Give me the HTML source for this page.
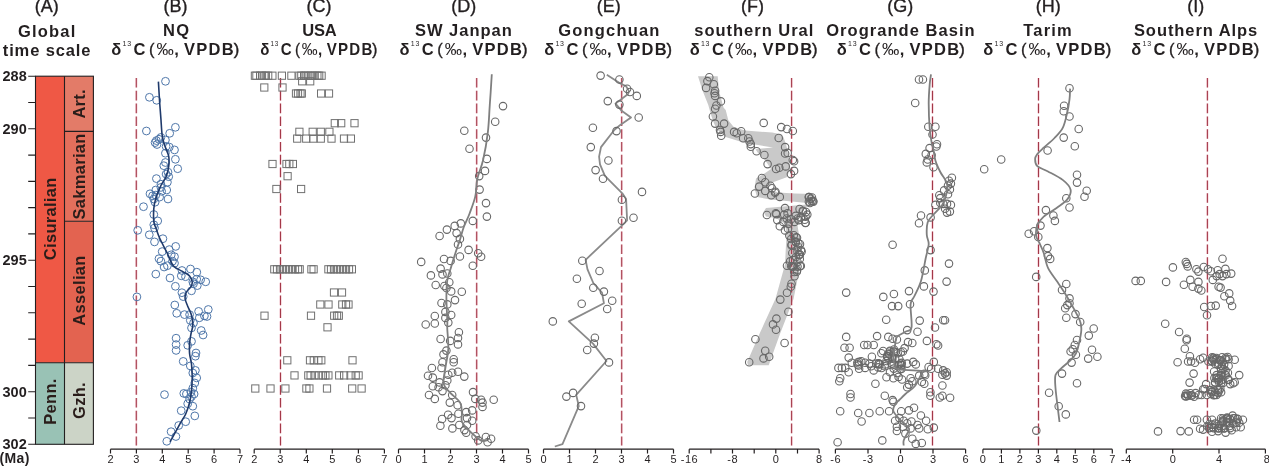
<!DOCTYPE html>
<html><head><meta charset="utf-8"><title>Carbon isotope correlation</title>
<style>
html,body{margin:0;padding:0;background:#fff;}
body{width:1269px;height:466px;overflow:hidden;}
svg{display:block;}
</style></head>
<body>
<svg width="1269" height="466" viewBox="0 0 1269 466">
<rect width="1269" height="466" fill="#fff"/>
<rect x="35.5" y="76.2" width="29.0" height="286.6" fill="#EF5845"/>
<rect x="35.5" y="362.8" width="29.0" height="81.5" fill="#99C2B5"/>
<rect x="64.5" y="76.2" width="28.9" height="55.2" fill="#E37B68"/>
<rect x="64.5" y="131.4" width="28.9" height="89.9" fill="#E36F5C"/>
<rect x="64.5" y="221.3" width="28.9" height="141.4" fill="#E36350"/>
<rect x="64.5" y="362.8" width="28.9" height="81.5" fill="#CCD4C7"/>
<g stroke="#231f20" stroke-width="1.1" fill="none">
<rect x="35.5" y="76.2" width="57.9" height="368.1"/>
<path d="M64.5,76.2 V444.3 M35.5,362.8 H93.4 M64.5,131.4 H93.4 M64.5,221.3 H93.4"/>
<path d="M28.2,76.2 H35.5 M28.2,102.5 H35.5 M28.2,128.8 H35.5 M28.2,155.1 H35.5 M28.2,181.4 H35.5 M28.2,207.6 H35.5 M28.2,233.9 H35.5 M28.2,260.2 H35.5 M28.2,286.5 H35.5 M28.2,312.8 H35.5 M28.2,339.1 H35.5 M28.2,365.4 H35.5 M28.2,391.7 H35.5 M28.2,418.0 H35.5 M28.2,444.3 H35.5 "/>
</g>
<g font-family="Liberation Sans, Arial, sans-serif" font-weight="bold" font-size="14.5" fill="#231f20" text-anchor="end" letter-spacing="0.1">
<text x="26.9" y="81.2">288</text>
<text x="26.9" y="133.8">290</text>
<text x="26.9" y="265.2">295</text>
<text x="26.9" y="396.7">300</text>
<text x="26.9" y="449.3">302</text>
</g>
<text x="-0.5" y="462.5" font-family="Liberation Sans, Arial, sans-serif" font-weight="bold" font-size="14" fill="#231f20" letter-spacing="0.4">(Ma)</text>
<text transform="translate(55.8,218.8) rotate(-90)" text-anchor="middle" font-family="Liberation Sans, Arial, sans-serif" font-weight="bold" font-size="16.5" letter-spacing="0.3" fill="#2a1d1a">Cisuralian</text>
<text transform="translate(84.6,103.8) rotate(-90)" text-anchor="middle" font-family="Liberation Sans, Arial, sans-serif" font-weight="bold" font-size="16.5" letter-spacing="0.3" fill="#2a1d1a">Art.</text>
<text transform="translate(84.6,176.4) rotate(-90)" text-anchor="middle" font-family="Liberation Sans, Arial, sans-serif" font-weight="bold" font-size="16.5" letter-spacing="0.3" fill="#2a1d1a">Sakmarian</text>
<text transform="translate(84.6,290.5) rotate(-90)" text-anchor="middle" font-family="Liberation Sans, Arial, sans-serif" font-weight="bold" font-size="16.5" letter-spacing="0.3" fill="#2a1d1a">Asselian</text>
<text transform="translate(55.8,401.5) rotate(-90)" text-anchor="middle" font-family="Liberation Sans, Arial, sans-serif" font-weight="bold" font-size="16.5" letter-spacing="0.3" fill="#2a1d1a">Penn.</text>
<text transform="translate(84.6,400.5) rotate(-90)" text-anchor="middle" font-family="Liberation Sans, Arial, sans-serif" font-weight="bold" font-size="16.5" letter-spacing="0.3" fill="#2a1d1a">Gzh.</text>
<g stroke="#231f20" stroke-width="1.2" fill="none">
<path d="M110.5,449.2 H240.0 M110.5,449.2 V453.4 M136.4,449.2 V453.4 M162.3,449.2 V453.4 M188.2,449.2 V453.4 M214.1,449.2 V453.4 M240.0,449.2 V453.4 "/>
<path d="M254.2,449.2 H384.4 M254.2,449.2 V453.4 M280.2,449.2 V453.4 M306.3,449.2 V453.4 M332.3,449.2 V453.4 M358.4,449.2 V453.4 M384.4,449.2 V453.4 "/>
<path d="M398.5,449.2 H528.5 M398.5,449.2 V453.4 M424.5,449.2 V453.4 M450.5,449.2 V453.4 M476.5,449.2 V453.4 M502.5,449.2 V453.4 M528.5,449.2 V453.4 "/>
<path d="M543.5,449.2 H673.5 M543.5,449.2 V453.4 M569.5,449.2 V453.4 M595.5,449.2 V453.4 M621.5,449.2 V453.4 M647.5,449.2 V453.4 M673.5,449.2 V453.4 "/>
<path d="M689.2,449.2 H819.1 M689.2,449.2 V453.4 M710.9,449.2 V453.4 M732.5,449.2 V453.4 M754.2,449.2 V453.4 M775.8,449.2 V453.4 M797.5,449.2 V453.4 M819.1,449.2 V453.4 "/>
<path d="M835.4,449.2 H965.6 M835.4,449.2 V453.4 M868.0,449.2 V453.4 M900.5,449.2 V453.4 M933.0,449.2 V453.4 M965.6,449.2 V453.4 "/>
<path d="M982.9,449.2 H1112.3 M982.9,449.2 V453.4 M1001.4,449.2 V453.4 M1019.9,449.2 V453.4 M1038.4,449.2 V453.4 M1056.8,449.2 V453.4 M1075.3,449.2 V453.4 M1093.8,449.2 V453.4 M1112.3,449.2 V453.4 "/>
<path d="M1126.3,449.2 H1265.4 M1126.3,449.2 V453.4 M1172.7,449.2 V453.4 M1219.0,449.2 V453.4 M1265.4,449.2 V453.4 "/>
</g>
<g font-family="Liberation Sans, Arial, sans-serif" font-size="11" fill="#231f20" text-anchor="middle">
<text x="110.5" y="462.7">2</text>
<text x="136.4" y="462.7">3</text>
<text x="162.3" y="462.7">4</text>
<text x="188.2" y="462.7">5</text>
<text x="214.1" y="462.7">6</text>
<text x="240.0" y="462.7">7</text>
<text x="254.2" y="462.7">2</text>
<text x="280.2" y="462.7">3</text>
<text x="306.3" y="462.7">4</text>
<text x="332.3" y="462.7">5</text>
<text x="358.4" y="462.7">6</text>
<text x="384.4" y="462.7">7</text>
<text x="398.5" y="462.7">0</text>
<text x="424.5" y="462.7">1</text>
<text x="450.5" y="462.7">2</text>
<text x="476.5" y="462.7">3</text>
<text x="502.5" y="462.7">4</text>
<text x="528.5" y="462.7">5</text>
<text x="543.5" y="462.7">0</text>
<text x="569.5" y="462.7">1</text>
<text x="595.5" y="462.7">2</text>
<text x="621.5" y="462.7">3</text>
<text x="647.5" y="462.7">4</text>
<text x="673.5" y="462.7">5</text>
<text x="689.5" y="462.7" letter-spacing="0.6">-16</text>
<text x="732.8" y="462.7" letter-spacing="0.6">-8</text>
<text x="775.8" y="462.7">0</text>
<text x="819.1" y="462.7">8</text>
<text x="835.7" y="462.7" letter-spacing="0.6">-6</text>
<text x="868.2" y="462.7" letter-spacing="0.6">-3</text>
<text x="900.5" y="462.7">0</text>
<text x="933.0" y="462.7">3</text>
<text x="965.6" y="462.7">6</text>
<text x="982.9" y="462.7">0</text>
<text x="1001.4" y="462.7">1</text>
<text x="1019.9" y="462.7">2</text>
<text x="1038.4" y="462.7">3</text>
<text x="1056.8" y="462.7">4</text>
<text x="1075.3" y="462.7">5</text>
<text x="1093.8" y="462.7">6</text>
<text x="1112.3" y="462.7">7</text>
<text x="1126.6" y="462.7" letter-spacing="0.6">-4</text>
<text x="1172.7" y="462.7">0</text>
<text x="1219.0" y="462.7">4</text>
<text x="1266.9" y="462.7">8</text>
</g>
<path d="M698.0,76.2 L702.6,90.7 L708.3,105.0 L710.5,113.0 L713.0,121.0 L716.7,129.3 L725.7,137.0 L742.5,142.2 L753.6,144.3 L773.0,147.5 L755.5,149.2 L758.0,153.0 L765.0,160.0 L771.0,169.0 L763.0,174.5 L756.0,178.5 L754.5,188.0 L757.0,197.0 L770.0,199.5 L781.5,200.4 L807.3,203.0 L810.0,204.0 L803.9,204.7 L766.0,208.1 L763.5,212.0 L766.0,216.5 L776.0,218.0 L785.5,224.0 L786.5,235.0 L785.0,264.4 L775.5,298.7 L759.2,334.4 L747.2,362.0 L748.0,365.3 L768.7,365.3 L779.8,334.4 L793.6,298.7 L800.4,264.4 L799.0,235.0 L797.0,222.0 L803.0,210.0 L813.0,203.0 L816.0,198.0 L812.0,194.0 L795.0,193.5 L778.0,192.5 L768.0,188.5 L773.0,182.3 L786.7,177.2 L790.3,169.0 L789.0,158.7 L786.4,145.8 L783.8,138.0 L782.0,134.5 L772.2,132.5 L745.0,130.5 L733.5,126.7 L728.3,120.3 L725.7,110.0 L723.5,107.5 L719.0,90.7 L717.7,76.2 Z" fill="#c9c9c9"/>
<line x1="136.3" y1="78" x2="136.3" y2="445.5" stroke="#eaa0ae" stroke-opacity="0.4" stroke-width="2.6" stroke-dasharray="9.6 3.2"/>
<line x1="136.3" y1="78" x2="136.3" y2="445.5" stroke="#a33848" stroke-width="1.05" stroke-dasharray="9.6 3.2"/>
<line x1="280.5" y1="78" x2="280.5" y2="445.5" stroke="#eaa0ae" stroke-opacity="0.4" stroke-width="2.6" stroke-dasharray="9.6 3.2"/>
<line x1="280.5" y1="78" x2="280.5" y2="445.5" stroke="#a33848" stroke-width="1.05" stroke-dasharray="9.6 3.2"/>
<line x1="476.7" y1="78" x2="476.7" y2="445.5" stroke="#eaa0ae" stroke-opacity="0.4" stroke-width="2.6" stroke-dasharray="9.6 3.2"/>
<line x1="476.7" y1="78" x2="476.7" y2="445.5" stroke="#a33848" stroke-width="1.05" stroke-dasharray="9.6 3.2"/>
<line x1="621.7" y1="78" x2="621.7" y2="445.5" stroke="#eaa0ae" stroke-opacity="0.4" stroke-width="2.6" stroke-dasharray="9.6 3.2"/>
<line x1="621.7" y1="78" x2="621.7" y2="445.5" stroke="#a33848" stroke-width="1.05" stroke-dasharray="9.6 3.2"/>
<line x1="791.6" y1="78" x2="791.6" y2="445.5" stroke="#eaa0ae" stroke-opacity="0.4" stroke-width="2.6" stroke-dasharray="9.6 3.2"/>
<line x1="791.6" y1="78" x2="791.6" y2="445.5" stroke="#a33848" stroke-width="1.05" stroke-dasharray="9.6 3.2"/>
<line x1="932.5" y1="78" x2="932.5" y2="445.5" stroke="#eaa0ae" stroke-opacity="0.4" stroke-width="2.6" stroke-dasharray="9.6 3.2"/>
<line x1="932.5" y1="78" x2="932.5" y2="445.5" stroke="#a33848" stroke-width="1.05" stroke-dasharray="9.6 3.2"/>
<line x1="1038.5" y1="78" x2="1038.5" y2="445.5" stroke="#eaa0ae" stroke-opacity="0.4" stroke-width="2.6" stroke-dasharray="9.6 3.2"/>
<line x1="1038.5" y1="78" x2="1038.5" y2="445.5" stroke="#a33848" stroke-width="1.05" stroke-dasharray="9.6 3.2"/>
<line x1="1207.4" y1="78" x2="1207.4" y2="445.5" stroke="#eaa0ae" stroke-opacity="0.4" stroke-width="2.6" stroke-dasharray="9.6 3.2"/>
<line x1="1207.4" y1="78" x2="1207.4" y2="445.5" stroke="#a33848" stroke-width="1.05" stroke-dasharray="9.6 3.2"/>
<g font-family="Liberation Sans, Arial, sans-serif" font-size="18" fill="#231f20" stroke="#231f20" stroke-width="0.35" text-anchor="middle">
<text x="46.8" y="11.6">(A)</text>
<text x="175.4" y="11.6">(B)</text>
<text x="319.1" y="11.6">(C)</text>
<text x="463.7" y="11.6">(D)</text>
<text x="608.8" y="11.6">(E)</text>
<text x="752.5" y="11.6">(F)</text>
<text x="900.3" y="11.6">(G)</text>
<text x="1048.3" y="11.6">(H)</text>
<text x="1195.7" y="11.6">(I)</text>
</g>
<g font-family="Liberation Sans, Arial, sans-serif" font-weight="bold" font-size="16.5" fill="#231f20" text-anchor="middle">
<text x="47.29" y="36.7" letter-spacing="1.18">Global</text>
<text x="176.75" y="35.7" letter-spacing="1.4">NQ</text>
<text x="319.27" y="35.7" letter-spacing="-0.25">USA</text>
<text x="463.85" y="35.7" letter-spacing="0.99">SW Janpan</text>
<text x="609.40" y="35.7" letter-spacing="1.2">Gongchuan</text>
<text x="754.29" y="35.7" letter-spacing="0.98">southern Ural</text>
<text x="900.97" y="35.7" letter-spacing="1.04">Orogrande Basin</text>
<text x="1048.08" y="35.7" letter-spacing="1.15">Tarim</text>
<text x="1196.06" y="35.7" letter-spacing="0.93">Southern Alps</text>
<text x="47.04" y="55.6" letter-spacing="0.87">time scale</text>
</g>
<text y="54.7" font-family="Liberation Sans, Arial, sans-serif" font-size="16.5" fill="#231f20"><tspan x="111.3" font-weight="bold">δ</tspan><tspan x="122.5" y="45.8" font-size="7" letter-spacing="0.8">13</tspan><tspan x="133.5" y="54.7" font-weight="bold">C </tspan><tspan x="149.1" stroke="#231f20" stroke-width="0.3">(</tspan><tspan x="174.2" font-weight="bold">, </tspan><tspan x="184.0" font-weight="bold" letter-spacing="1.3">VPDB</tspan><tspan x="233.7" stroke="#231f20" stroke-width="0.45">)</tspan></text>
<text transform="translate(156.5,54.7) scale(1.050,1)" font-family="Liberation Sans, Arial, sans-serif" font-size="16.5" fill="#231f20">‰</text>
<text y="54.7" font-family="Liberation Sans, Arial, sans-serif" font-size="16.5" fill="#231f20" transform="translate(260.9,0) scale(0.915,1) translate(-260.9,0)"><tspan x="260.3" font-weight="bold">δ</tspan><tspan x="271.5" y="45.8" font-size="7" letter-spacing="0.8">13</tspan><tspan x="282.5" y="54.7" font-weight="bold">C </tspan><tspan x="298.1" stroke="#231f20" stroke-width="0.3">(</tspan><tspan x="323.2" font-weight="bold">, </tspan><tspan x="333.0" font-weight="bold" letter-spacing="1.3">VPDB</tspan><tspan x="382.7" stroke="#231f20" stroke-width="0.45">)</tspan></text>
<text transform="translate(301.7,54.7) scale(0.961,1)" font-family="Liberation Sans, Arial, sans-serif" font-size="16.5" fill="#231f20">‰</text>
<text y="54.7" font-family="Liberation Sans, Arial, sans-serif" font-size="16.5" fill="#231f20"><tspan x="399.5" font-weight="bold">δ</tspan><tspan x="410.7" y="45.8" font-size="7" letter-spacing="0.8">13</tspan><tspan x="421.7" y="54.7" font-weight="bold">C </tspan><tspan x="437.3" stroke="#231f20" stroke-width="0.3">(</tspan><tspan x="462.4" font-weight="bold">, </tspan><tspan x="472.2" font-weight="bold" letter-spacing="1.3">VPDB</tspan><tspan x="521.9" stroke="#231f20" stroke-width="0.45">)</tspan></text>
<text transform="translate(444.7,54.7) scale(1.050,1)" font-family="Liberation Sans, Arial, sans-serif" font-size="16.5" fill="#231f20">‰</text>
<text y="54.7" font-family="Liberation Sans, Arial, sans-serif" font-size="16.5" fill="#231f20"><tspan x="544.2" font-weight="bold">δ</tspan><tspan x="555.4" y="45.8" font-size="7" letter-spacing="0.8">13</tspan><tspan x="566.4" y="54.7" font-weight="bold">C </tspan><tspan x="582.0" stroke="#231f20" stroke-width="0.3">(</tspan><tspan x="607.1" font-weight="bold">, </tspan><tspan x="616.9" font-weight="bold" letter-spacing="1.3">VPDB</tspan><tspan x="666.6" stroke="#231f20" stroke-width="0.45">)</tspan></text>
<text transform="translate(589.4,54.7) scale(1.050,1)" font-family="Liberation Sans, Arial, sans-serif" font-size="16.5" fill="#231f20">‰</text>
<text y="54.7" font-family="Liberation Sans, Arial, sans-serif" font-size="16.5" fill="#231f20"><tspan x="689.7" font-weight="bold">δ</tspan><tspan x="700.9" y="45.8" font-size="7" letter-spacing="0.8">13</tspan><tspan x="711.9" y="54.7" font-weight="bold">C </tspan><tspan x="727.5" stroke="#231f20" stroke-width="0.3">(</tspan><tspan x="752.6" font-weight="bold">, </tspan><tspan x="762.4" font-weight="bold" letter-spacing="1.3">VPDB</tspan><tspan x="812.1" stroke="#231f20" stroke-width="0.45">)</tspan></text>
<text transform="translate(734.9,54.7) scale(1.050,1)" font-family="Liberation Sans, Arial, sans-serif" font-size="16.5" fill="#231f20">‰</text>
<text y="54.7" font-family="Liberation Sans, Arial, sans-serif" font-size="16.5" fill="#231f20"><tspan x="836.8" font-weight="bold">δ</tspan><tspan x="848.0" y="45.8" font-size="7" letter-spacing="0.8">13</tspan><tspan x="859.0" y="54.7" font-weight="bold">C </tspan><tspan x="874.6" stroke="#231f20" stroke-width="0.3">(</tspan><tspan x="899.7" font-weight="bold">, </tspan><tspan x="909.5" font-weight="bold" letter-spacing="1.3">VPDB</tspan><tspan x="959.2" stroke="#231f20" stroke-width="0.45">)</tspan></text>
<text transform="translate(882.0,54.7) scale(1.050,1)" font-family="Liberation Sans, Arial, sans-serif" font-size="16.5" fill="#231f20">‰</text>
<text y="54.7" font-family="Liberation Sans, Arial, sans-serif" font-size="16.5" fill="#231f20"><tspan x="983.3" font-weight="bold">δ</tspan><tspan x="994.5" y="45.8" font-size="7" letter-spacing="0.8">13</tspan><tspan x="1005.5" y="54.7" font-weight="bold">C </tspan><tspan x="1021.1" stroke="#231f20" stroke-width="0.3">(</tspan><tspan x="1046.2" font-weight="bold">, </tspan><tspan x="1056.0" font-weight="bold" letter-spacing="1.3">VPDB</tspan><tspan x="1105.7" stroke="#231f20" stroke-width="0.45">)</tspan></text>
<text transform="translate(1028.5,54.7) scale(1.050,1)" font-family="Liberation Sans, Arial, sans-serif" font-size="16.5" fill="#231f20">‰</text>
<text y="54.7" font-family="Liberation Sans, Arial, sans-serif" font-size="16.5" fill="#231f20"><tspan x="1131.3" font-weight="bold">δ</tspan><tspan x="1142.5" y="45.8" font-size="7" letter-spacing="0.8">13</tspan><tspan x="1153.5" y="54.7" font-weight="bold">C </tspan><tspan x="1169.1" stroke="#231f20" stroke-width="0.3">(</tspan><tspan x="1194.2" font-weight="bold">, </tspan><tspan x="1204.0" font-weight="bold" letter-spacing="1.3">VPDB</tspan><tspan x="1253.7" stroke="#231f20" stroke-width="0.45">)</tspan></text>
<text transform="translate(1176.5,54.7) scale(1.050,1)" font-family="Liberation Sans, Arial, sans-serif" font-size="16.5" fill="#231f20">‰</text>
<g fill="none" stroke="#4f77aa" stroke-width="1.0">
<circle cx="165.5" cy="81.3" r="3.9"/>
<circle cx="149.4" cy="97.3" r="3.9"/>
<circle cx="156.7" cy="100.3" r="3.9"/>
<circle cx="175.4" cy="127.3" r="3.9"/>
<circle cx="146.4" cy="131.0" r="3.9"/>
<circle cx="169.7" cy="133.3" r="3.9"/>
<circle cx="156.4" cy="140.6" r="3.9"/>
<circle cx="159.0" cy="139.3" r="3.9"/>
<circle cx="160.9" cy="137.4" r="3.9"/>
<circle cx="165.4" cy="140.0" r="3.9"/>
<circle cx="155.1" cy="142.6" r="3.9"/>
<circle cx="157.0" cy="144.5" r="3.9"/>
<circle cx="166.1" cy="146.4" r="3.9"/>
<circle cx="169.3" cy="147.1" r="3.9"/>
<circle cx="174.5" cy="149.9" r="3.9"/>
<circle cx="165.4" cy="153.2" r="3.9"/>
<circle cx="175.4" cy="159.3" r="3.9"/>
<circle cx="165.4" cy="162.5" r="3.9"/>
<circle cx="163.8" cy="165.7" r="3.9"/>
<circle cx="177.7" cy="168.7" r="3.9"/>
<circle cx="168.0" cy="172.2" r="3.9"/>
<circle cx="166.1" cy="174.1" r="3.9"/>
<circle cx="156.4" cy="178.6" r="3.9"/>
<circle cx="168.7" cy="176.7" r="3.9"/>
<circle cx="167.4" cy="182.2" r="3.9"/>
<circle cx="160.9" cy="184.2" r="3.9"/>
<circle cx="160.9" cy="187.4" r="3.9"/>
<circle cx="155.8" cy="190.0" r="3.9"/>
<circle cx="166.7" cy="190.0" r="3.9"/>
<circle cx="161.6" cy="191.3" r="3.9"/>
<circle cx="150.0" cy="193.8" r="3.9"/>
<circle cx="152.6" cy="195.8" r="3.9"/>
<circle cx="155.8" cy="195.1" r="3.9"/>
<circle cx="159.6" cy="197.1" r="3.9"/>
<circle cx="153.8" cy="199.0" r="3.9"/>
<circle cx="168.0" cy="199.0" r="3.9"/>
<circle cx="155.1" cy="202.2" r="3.9"/>
<circle cx="143.5" cy="206.7" r="3.9"/>
<circle cx="153.8" cy="214.5" r="3.9"/>
<circle cx="157.7" cy="220.9" r="3.9"/>
<circle cx="153.8" cy="224.8" r="3.9"/>
<circle cx="154.5" cy="228.0" r="3.9"/>
<circle cx="137.7" cy="230.3" r="3.9"/>
<circle cx="149.3" cy="234.8" r="3.9"/>
<circle cx="162.9" cy="238.7" r="3.9"/>
<circle cx="154.5" cy="241.9" r="3.9"/>
<circle cx="175.7" cy="246.4" r="3.9"/>
<circle cx="162.2" cy="251.6" r="3.9"/>
<circle cx="169.3" cy="249.6" r="3.9"/>
<circle cx="171.2" cy="254.8" r="3.9"/>
<circle cx="174.5" cy="256.7" r="3.9"/>
<circle cx="159.0" cy="258.7" r="3.9"/>
<circle cx="160.9" cy="261.2" r="3.9"/>
<circle cx="172.5" cy="261.2" r="3.9"/>
<circle cx="174.5" cy="263.2" r="3.9"/>
<circle cx="164.1" cy="267.0" r="3.9"/>
<circle cx="167.4" cy="265.7" r="3.9"/>
<circle cx="155.8" cy="274.1" r="3.9"/>
<circle cx="170.0" cy="278.0" r="3.9"/>
<circle cx="182.0" cy="270.5" r="3.9"/>
<circle cx="190.5" cy="269.0" r="3.9"/>
<circle cx="181.3" cy="275.8" r="3.9"/>
<circle cx="185.5" cy="276.7" r="3.9"/>
<circle cx="196.8" cy="272.2" r="3.9"/>
<circle cx="192.8" cy="281.8" r="3.9"/>
<circle cx="196.7" cy="279.2" r="3.9"/>
<circle cx="200.6" cy="279.8" r="3.9"/>
<circle cx="205.7" cy="281.8" r="3.9"/>
<circle cx="197.3" cy="285.6" r="3.9"/>
<circle cx="193.5" cy="283.7" r="3.9"/>
<circle cx="175.4" cy="286.3" r="3.9"/>
<circle cx="191.5" cy="290.8" r="3.9"/>
<circle cx="181.9" cy="292.7" r="3.9"/>
<circle cx="183.2" cy="296.6" r="3.9"/>
<circle cx="174.8" cy="305.0" r="3.9"/>
<circle cx="176.7" cy="313.3" r="3.9"/>
<circle cx="184.5" cy="314.6" r="3.9"/>
<circle cx="189.6" cy="314.6" r="3.9"/>
<circle cx="198.6" cy="311.4" r="3.9"/>
<circle cx="208.3" cy="309.5" r="3.9"/>
<circle cx="204.4" cy="315.9" r="3.9"/>
<circle cx="207.0" cy="316.5" r="3.9"/>
<circle cx="199.3" cy="317.8" r="3.9"/>
<circle cx="190.3" cy="320.4" r="3.9"/>
<circle cx="193.5" cy="323.0" r="3.9"/>
<circle cx="136.9" cy="296.9" r="3.9"/>
<circle cx="191.5" cy="327.9" r="3.9"/>
<circle cx="201.2" cy="330.5" r="3.9"/>
<circle cx="203.1" cy="335.0" r="3.9"/>
<circle cx="176.1" cy="338.2" r="3.9"/>
<circle cx="191.5" cy="341.4" r="3.9"/>
<circle cx="187.7" cy="345.3" r="3.9"/>
<circle cx="176.1" cy="344.6" r="3.9"/>
<circle cx="176.1" cy="350.4" r="3.9"/>
<circle cx="196.0" cy="353.0" r="3.9"/>
<circle cx="195.4" cy="356.2" r="3.9"/>
<circle cx="183.2" cy="361.4" r="3.9"/>
<circle cx="190.3" cy="365.9" r="3.9"/>
<circle cx="195.4" cy="370.4" r="3.9"/>
<circle cx="192.8" cy="373.0" r="3.9"/>
<circle cx="196.7" cy="377.9" r="3.9"/>
<circle cx="194.8" cy="383.0" r="3.9"/>
<circle cx="192.8" cy="388.2" r="3.9"/>
<circle cx="164.5" cy="394.6" r="3.9"/>
<circle cx="183.8" cy="393.4" r="3.9"/>
<circle cx="186.4" cy="394.0" r="3.9"/>
<circle cx="190.9" cy="392.1" r="3.9"/>
<circle cx="194.1" cy="394.0" r="3.9"/>
<circle cx="191.5" cy="396.6" r="3.9"/>
<circle cx="189.6" cy="399.1" r="3.9"/>
<circle cx="187.7" cy="403.7" r="3.9"/>
<circle cx="192.8" cy="406.2" r="3.9"/>
<circle cx="181.2" cy="410.7" r="3.9"/>
<circle cx="194.8" cy="415.9" r="3.9"/>
<circle cx="185.7" cy="421.7" r="3.9"/>
<circle cx="178.7" cy="425.5" r="3.9"/>
<circle cx="171.1" cy="431.7" r="3.9"/>
<circle cx="175.9" cy="436.5" r="3.9"/>
<circle cx="166.8" cy="441.3" r="3.9"/>
</g>
<path d="M158.4,81.6 C158.6,84.7 159.1,93.6 159.5,100.0 C159.9,106.4 160.6,114.1 161.0,120.0 C161.4,125.9 161.6,131.2 162.2,135.5 C162.8,139.8 163.7,142.4 164.8,145.8 C165.9,149.2 168.0,152.7 168.7,156.1 C169.3,159.5 169.1,163.0 168.7,166.4 C168.3,169.8 167.4,173.5 166.1,176.7 C164.8,179.9 162.6,181.9 160.9,185.5 C159.2,189.1 157.0,194.5 155.8,198.4 C154.6,202.3 154.1,204.8 153.8,208.7 C153.5,212.5 153.5,218.3 153.8,221.5 C154.1,224.7 154.8,224.9 155.8,227.7 C156.8,230.4 157.7,233.7 159.6,238.0 C161.5,242.3 165.1,248.8 167.4,253.5 C169.7,258.2 171.0,263.0 173.5,266.0 C176.0,269.0 179.8,269.7 182.5,271.4 C185.2,273.1 188.0,274.3 189.6,276.0 C191.2,277.7 192.0,280.0 192.2,281.8 C192.4,283.6 191.9,285.2 190.9,286.9 C189.9,288.6 187.4,290.1 186.4,292.0 C185.4,293.9 184.9,296.1 185.1,298.5 C185.3,300.9 186.6,303.4 187.7,306.2 C188.8,309.0 190.7,312.1 191.5,315.3 C192.3,318.5 192.9,322.1 192.8,325.3 C192.7,328.5 191.4,331.3 190.9,334.3 C190.4,337.3 189.8,340.2 189.6,343.4 C189.4,346.6 189.3,350.3 189.6,353.7 C189.9,357.1 191.1,360.0 191.5,364.0 C191.9,368.0 192.2,373.4 192.2,377.9 C192.2,382.4 191.9,386.7 191.5,390.8 C191.1,394.9 190.6,398.5 189.6,402.4 C188.6,406.3 187.1,410.8 185.7,414.0 C184.3,417.2 182.9,418.7 181.2,421.7 C179.5,424.7 177.3,428.8 175.4,432.2 C173.5,435.6 170.9,440.2 170.0,441.8" fill="none" stroke="#1f3a6b" stroke-width="1.6"/>
<g fill="none" stroke="#707070" stroke-width="1">
<rect x="251.3" y="72.1" width="7.2" height="7.2"/>
<rect x="252.8" y="72.1" width="7.2" height="7.2"/>
<rect x="256.5" y="72.1" width="7.2" height="7.2"/>
<rect x="258.4" y="72.1" width="7.2" height="7.2"/>
<rect x="260.8" y="72.1" width="7.2" height="7.2"/>
<rect x="262.2" y="72.1" width="7.2" height="7.2"/>
<rect x="264.6" y="72.1" width="7.2" height="7.2"/>
<rect x="268.8" y="72.1" width="7.2" height="7.2"/>
<rect x="278.3" y="72.1" width="7.2" height="7.2"/>
<rect x="287.8" y="72.1" width="7.2" height="7.2"/>
<rect x="295.8" y="72.1" width="7.2" height="7.2"/>
<rect x="297.7" y="72.1" width="7.2" height="7.2"/>
<rect x="300.5" y="72.1" width="7.2" height="7.2"/>
<rect x="301.9" y="72.1" width="7.2" height="7.2"/>
<rect x="304.8" y="72.1" width="7.2" height="7.2"/>
<rect x="307.1" y="72.1" width="7.2" height="7.2"/>
<rect x="309.0" y="72.1" width="7.2" height="7.2"/>
<rect x="310.9" y="72.1" width="7.2" height="7.2"/>
<rect x="313.8" y="72.1" width="7.2" height="7.2"/>
<rect x="315.6" y="72.1" width="7.2" height="7.2"/>
<rect x="318.0" y="72.1" width="7.2" height="7.2"/>
<rect x="298.6" y="77.7" width="7.2" height="7.2"/>
<rect x="306.6" y="77.7" width="7.2" height="7.2"/>
<rect x="260.7" y="83.9" width="7.2" height="7.2"/>
<rect x="278.9" y="83.9" width="7.2" height="7.2"/>
<rect x="292.4" y="89.9" width="7.2" height="7.2"/>
<rect x="294.4" y="89.9" width="7.2" height="7.2"/>
<rect x="296.9" y="89.9" width="7.2" height="7.2"/>
<rect x="298.2" y="89.9" width="7.2" height="7.2"/>
<rect x="317.5" y="89.9" width="7.2" height="7.2"/>
<rect x="325.4" y="89.9" width="7.2" height="7.2"/>
<rect x="331.2" y="119.6" width="7.2" height="7.2"/>
<rect x="337.6" y="119.6" width="7.2" height="7.2"/>
<rect x="350.9" y="119.6" width="7.2" height="7.2"/>
<rect x="295.8" y="128.2" width="7.2" height="7.2"/>
<rect x="309.1" y="128.2" width="7.2" height="7.2"/>
<rect x="317.2" y="128.2" width="7.2" height="7.2"/>
<rect x="325.8" y="128.2" width="7.2" height="7.2"/>
<rect x="293.6" y="135.0" width="7.2" height="7.2"/>
<rect x="302.6" y="135.0" width="7.2" height="7.2"/>
<rect x="309.7" y="135.0" width="7.2" height="7.2"/>
<rect x="317.2" y="135.0" width="7.2" height="7.2"/>
<rect x="327.9" y="135.0" width="7.2" height="7.2"/>
<rect x="340.4" y="135.0" width="7.2" height="7.2"/>
<rect x="347.3" y="135.0" width="7.2" height="7.2"/>
<rect x="268.9" y="160.4" width="7.2" height="7.2"/>
<rect x="282.9" y="160.4" width="7.2" height="7.2"/>
<rect x="285.7" y="160.4" width="7.2" height="7.2"/>
<rect x="289.3" y="160.4" width="7.2" height="7.2"/>
<rect x="284.0" y="172.6" width="7.2" height="7.2"/>
<rect x="272.8" y="185.4" width="7.2" height="7.2"/>
<rect x="297.5" y="185.4" width="7.2" height="7.2"/>
<rect x="270.7" y="265.7" width="7.2" height="7.2"/>
<rect x="273.4" y="265.7" width="7.2" height="7.2"/>
<rect x="276.4" y="265.7" width="7.2" height="7.2"/>
<rect x="279.4" y="265.7" width="7.2" height="7.2"/>
<rect x="282.4" y="265.7" width="7.2" height="7.2"/>
<rect x="285.4" y="265.7" width="7.2" height="7.2"/>
<rect x="288.4" y="265.7" width="7.2" height="7.2"/>
<rect x="291.4" y="265.7" width="7.2" height="7.2"/>
<rect x="294.4" y="265.7" width="7.2" height="7.2"/>
<rect x="296.1" y="265.7" width="7.2" height="7.2"/>
<rect x="307.8" y="265.7" width="7.2" height="7.2"/>
<rect x="310.0" y="265.7" width="7.2" height="7.2"/>
<rect x="324.8" y="265.7" width="7.2" height="7.2"/>
<rect x="327.4" y="265.7" width="7.2" height="7.2"/>
<rect x="330.4" y="265.7" width="7.2" height="7.2"/>
<rect x="333.4" y="265.7" width="7.2" height="7.2"/>
<rect x="336.4" y="265.7" width="7.2" height="7.2"/>
<rect x="339.4" y="265.7" width="7.2" height="7.2"/>
<rect x="342.4" y="265.7" width="7.2" height="7.2"/>
<rect x="345.4" y="265.7" width="7.2" height="7.2"/>
<rect x="348.3" y="265.7" width="7.2" height="7.2"/>
<rect x="330.4" y="288.9" width="7.2" height="7.2"/>
<rect x="338.4" y="288.9" width="7.2" height="7.2"/>
<rect x="316.7" y="300.9" width="7.2" height="7.2"/>
<rect x="324.9" y="300.9" width="7.2" height="7.2"/>
<rect x="338.7" y="300.9" width="7.2" height="7.2"/>
<rect x="342.4" y="300.9" width="7.2" height="7.2"/>
<rect x="344.9" y="300.9" width="7.2" height="7.2"/>
<rect x="260.9" y="312.1" width="7.2" height="7.2"/>
<rect x="307.4" y="312.1" width="7.2" height="7.2"/>
<rect x="330.6" y="312.1" width="7.2" height="7.2"/>
<rect x="333.4" y="312.1" width="7.2" height="7.2"/>
<rect x="335.2" y="312.1" width="7.2" height="7.2"/>
<rect x="323.9" y="323.7" width="7.2" height="7.2"/>
<rect x="283.7" y="356.7" width="7.2" height="7.2"/>
<rect x="306.4" y="356.7" width="7.2" height="7.2"/>
<rect x="310.2" y="356.7" width="7.2" height="7.2"/>
<rect x="314.8" y="356.7" width="7.2" height="7.2"/>
<rect x="317.7" y="356.7" width="7.2" height="7.2"/>
<rect x="348.9" y="356.7" width="7.2" height="7.2"/>
<rect x="290.9" y="371.8" width="7.2" height="7.2"/>
<rect x="304.7" y="371.8" width="7.2" height="7.2"/>
<rect x="307.0" y="371.8" width="7.2" height="7.2"/>
<rect x="310.9" y="371.8" width="7.2" height="7.2"/>
<rect x="315.4" y="371.8" width="7.2" height="7.2"/>
<rect x="319.3" y="371.8" width="7.2" height="7.2"/>
<rect x="321.8" y="371.8" width="7.2" height="7.2"/>
<rect x="324.8" y="371.8" width="7.2" height="7.2"/>
<rect x="335.6" y="371.8" width="7.2" height="7.2"/>
<rect x="340.5" y="371.8" width="7.2" height="7.2"/>
<rect x="346.9" y="371.8" width="7.2" height="7.2"/>
<rect x="352.1" y="371.8" width="7.2" height="7.2"/>
<rect x="355.0" y="371.8" width="7.2" height="7.2"/>
<rect x="251.7" y="384.9" width="7.2" height="7.2"/>
<rect x="266.9" y="384.9" width="7.2" height="7.2"/>
<rect x="281.8" y="384.9" width="7.2" height="7.2"/>
<rect x="302.8" y="384.9" width="7.2" height="7.2"/>
<rect x="305.8" y="384.9" width="7.2" height="7.2"/>
<rect x="323.4" y="384.9" width="7.2" height="7.2"/>
<rect x="348.6" y="384.9" width="7.2" height="7.2"/>
<rect x="358.0" y="384.9" width="7.2" height="7.2"/>
</g>
<g fill="none" stroke="#686868" stroke-width="1.1">
<circle cx="503.0" cy="106.1" r="3.75"/>
<circle cx="495.2" cy="121.8" r="3.75"/>
<circle cx="464.3" cy="130.8" r="3.75"/>
<circle cx="486.0" cy="137.6" r="3.75"/>
<circle cx="469.5" cy="148.8" r="3.75"/>
<circle cx="486.9" cy="158.9" r="3.75"/>
<circle cx="485.0" cy="170.9" r="3.75"/>
<circle cx="479.2" cy="176.1" r="3.75"/>
<circle cx="479.6" cy="189.6" r="3.75"/>
<circle cx="486.0" cy="203.1" r="3.75"/>
<circle cx="486.9" cy="216.6" r="3.75"/>
<circle cx="472.8" cy="220.9" r="3.75"/>
<circle cx="460.8" cy="223.4" r="3.75"/>
<circle cx="454.7" cy="225.9" r="3.75"/>
<circle cx="446.9" cy="229.6" r="3.75"/>
<circle cx="456.6" cy="233.1" r="3.75"/>
<circle cx="439.6" cy="236.0" r="3.75"/>
<circle cx="459.9" cy="238.9" r="3.75"/>
<circle cx="458.0" cy="244.5" r="3.75"/>
<circle cx="468.6" cy="249.9" r="3.75"/>
<circle cx="478.2" cy="253.2" r="3.75"/>
<circle cx="481.1" cy="256.7" r="3.75"/>
<circle cx="459.9" cy="256.5" r="3.75"/>
<circle cx="421.2" cy="261.9" r="3.75"/>
<circle cx="444.0" cy="259.0" r="3.75"/>
<circle cx="450.6" cy="260.9" r="3.75"/>
<circle cx="472.8" cy="265.7" r="3.75"/>
<circle cx="440.6" cy="268.6" r="3.75"/>
<circle cx="430.9" cy="275.4" r="3.75"/>
<circle cx="442.5" cy="274.4" r="3.75"/>
<circle cx="447.3" cy="273.5" r="3.75"/>
<circle cx="449.3" cy="282.2" r="3.75"/>
<circle cx="435.7" cy="285.0" r="3.75"/>
<circle cx="444.4" cy="286.0" r="3.75"/>
<circle cx="446.4" cy="288.0" r="3.75"/>
<circle cx="451.2" cy="291.4" r="3.75"/>
<circle cx="461.8" cy="291.8" r="3.75"/>
<circle cx="455.0" cy="300.1" r="3.75"/>
<circle cx="441.5" cy="303.0" r="3.75"/>
<circle cx="447.3" cy="304.4" r="3.75"/>
<circle cx="434.8" cy="316.0" r="3.75"/>
<circle cx="451.2" cy="315.0" r="3.75"/>
<circle cx="445.4" cy="317.9" r="3.75"/>
<circle cx="445.4" cy="311.9" r="3.75"/>
<circle cx="434.8" cy="323.5" r="3.75"/>
<circle cx="425.7" cy="324.5" r="3.75"/>
<circle cx="448.3" cy="322.6" r="3.75"/>
<circle cx="458.9" cy="332.2" r="3.75"/>
<circle cx="458.0" cy="338.0" r="3.75"/>
<circle cx="440.6" cy="339.0" r="3.75"/>
<circle cx="450.2" cy="340.9" r="3.75"/>
<circle cx="458.0" cy="344.4" r="3.75"/>
<circle cx="446.4" cy="350.6" r="3.75"/>
<circle cx="443.5" cy="354.4" r="3.75"/>
<circle cx="453.7" cy="359.3" r="3.75"/>
<circle cx="453.7" cy="362.2" r="3.75"/>
<circle cx="442.5" cy="362.2" r="3.75"/>
<circle cx="431.9" cy="368.0" r="3.75"/>
<circle cx="441.5" cy="368.0" r="3.75"/>
<circle cx="458.0" cy="371.8" r="3.75"/>
<circle cx="452.2" cy="372.8" r="3.75"/>
<circle cx="428.0" cy="375.7" r="3.75"/>
<circle cx="432.8" cy="377.6" r="3.75"/>
<circle cx="448.3" cy="374.7" r="3.75"/>
<circle cx="464.3" cy="376.6" r="3.75"/>
<circle cx="447.3" cy="380.5" r="3.75"/>
<circle cx="439.6" cy="382.4" r="3.75"/>
<circle cx="432.8" cy="386.3" r="3.75"/>
<circle cx="445.4" cy="385.3" r="3.75"/>
<circle cx="438.6" cy="387.3" r="3.75"/>
<circle cx="442.5" cy="391.1" r="3.75"/>
<circle cx="429.0" cy="395.0" r="3.75"/>
<circle cx="452.2" cy="395.0" r="3.75"/>
<circle cx="473.0" cy="392.1" r="3.75"/>
<circle cx="475.3" cy="398.9" r="3.75"/>
<circle cx="493.7" cy="399.8" r="3.75"/>
<circle cx="481.1" cy="399.8" r="3.75"/>
<circle cx="434.8" cy="398.9" r="3.75"/>
<circle cx="482.5" cy="402.6" r="3.75"/>
<circle cx="482.5" cy="406.9" r="3.75"/>
<circle cx="449.8" cy="402.6" r="3.75"/>
<circle cx="457.6" cy="405.2" r="3.75"/>
<circle cx="472.2" cy="410.4" r="3.75"/>
<circle cx="466.2" cy="412.1" r="3.75"/>
<circle cx="458.4" cy="413.8" r="3.75"/>
<circle cx="448.1" cy="414.7" r="3.75"/>
<circle cx="451.5" cy="418.1" r="3.75"/>
<circle cx="442.1" cy="419.0" r="3.75"/>
<circle cx="467.0" cy="418.1" r="3.75"/>
<circle cx="472.2" cy="420.7" r="3.75"/>
<circle cx="440.4" cy="425.8" r="3.75"/>
<circle cx="452.4" cy="428.4" r="3.75"/>
<circle cx="459.3" cy="425.0" r="3.75"/>
<circle cx="467.0" cy="425.0" r="3.75"/>
<circle cx="464.4" cy="430.1" r="3.75"/>
<circle cx="466.2" cy="432.7" r="3.75"/>
<circle cx="475.6" cy="436.2" r="3.75"/>
<circle cx="478.2" cy="440.4" r="3.75"/>
<circle cx="485.9" cy="437.0" r="3.75"/>
<circle cx="491.1" cy="438.7" r="3.75"/>
<circle cx="487.6" cy="442.2" r="3.75"/>
</g>
<path d="M491.8,74.2 C491.5,79.3 490.5,95.2 489.8,104.8 C489.1,114.4 489.0,122.6 487.9,131.8 C486.8,141.0 484.9,152.1 483.1,160.0 C481.3,167.9 478.6,172.9 477.3,179.0 C476.0,185.1 476.6,190.6 475.3,196.4 C474.0,202.2 471.4,208.5 469.5,213.7 C467.6,218.8 465.3,222.9 463.7,227.3 C462.1,231.7 461.2,236.0 459.9,240.0 C458.6,244.0 457.4,246.8 456.0,251.2 C454.6,255.6 452.6,261.9 451.2,266.7 C449.8,271.5 448.1,275.0 447.3,280.2 C446.5,285.4 446.4,291.0 446.4,297.6 C446.4,304.2 447.1,314.7 447.3,320.0 C447.5,325.3 447.1,324.5 447.3,329.3 C447.5,334.1 448.6,342.2 448.3,348.6 C448.0,355.1 446.2,362.2 445.4,368.0 C444.6,373.8 442.8,379.3 443.5,383.4 C444.2,387.4 447.0,389.1 449.8,392.3 C452.6,395.5 458.1,399.2 460.1,402.6 C462.1,406.1 461.6,409.9 461.9,413.0 C462.2,416.1 460.8,418.6 461.9,421.5 C463.0,424.4 465.5,427.0 468.7,430.1 C471.9,433.2 477.8,438.8 480.8,440.4 C483.9,442.0 486.0,440.1 487.0,440.0" fill="none" stroke="#7f7f7f" stroke-width="1.8"/>
<path d="M606.8,74.7 L620.3,83.4 L626.1,86.2 L629.0,91.1 L628.1,94.0 L615.5,103.6 L621.3,110.4 L631.0,117.5 L620.3,124.9 L614.5,129.7 L601.0,147.1 L599.1,156.6 L600.0,164.3 L604.9,175.9 L612.6,183.6 L622.3,193.3 L626.1,199.1 L627.1,220.3 L621.3,226.1 L585.6,259.8 L587.5,269.4 L593.3,283.0 L602.0,292.6 L603.9,303.2 L568.8,321.4 L593.0,343.6 L606.5,361.0 L576.2,394.9 L578.8,406.1 L562.5,444.2 L554.8,446.5" fill="none" stroke="#8a8a8a" stroke-width="1.8" stroke-linejoin="round"/>
<g fill="none" stroke="#686868" stroke-width="1.1">
<circle cx="600.6" cy="75.6" r="3.75"/>
<circle cx="619.4" cy="79.5" r="3.75"/>
<circle cx="627.1" cy="88.8" r="3.75"/>
<circle cx="630.0" cy="92.0" r="3.75"/>
<circle cx="636.8" cy="95.9" r="3.75"/>
<circle cx="607.8" cy="101.1" r="3.75"/>
<circle cx="619.4" cy="104.6" r="3.75"/>
<circle cx="638.7" cy="117.5" r="3.75"/>
<circle cx="592.9" cy="127.8" r="3.75"/>
<circle cx="616.5" cy="131.1" r="3.75"/>
<circle cx="590.8" cy="147.1" r="3.75"/>
<circle cx="608.4" cy="160.5" r="3.75"/>
<circle cx="595.6" cy="170.1" r="3.75"/>
<circle cx="603.0" cy="178.8" r="3.75"/>
<circle cx="642.0" cy="191.9" r="3.75"/>
<circle cx="621.9" cy="199.7" r="3.75"/>
<circle cx="633.5" cy="217.8" r="3.75"/>
<circle cx="621.9" cy="220.7" r="3.75"/>
<circle cx="582.3" cy="260.7" r="3.75"/>
<circle cx="599.5" cy="271.0" r="3.75"/>
<circle cx="576.9" cy="278.7" r="3.75"/>
<circle cx="593.3" cy="287.8" r="3.75"/>
<circle cx="603.9" cy="291.6" r="3.75"/>
<circle cx="612.2" cy="300.7" r="3.75"/>
<circle cx="581.7" cy="303.8" r="3.75"/>
<circle cx="607.2" cy="309.0" r="3.75"/>
<circle cx="552.8" cy="321.4" r="3.75"/>
<circle cx="594.9" cy="337.8" r="3.75"/>
<circle cx="593.9" cy="343.6" r="3.75"/>
<circle cx="587.2" cy="350.0" r="3.75"/>
<circle cx="609.0" cy="362.4" r="3.75"/>
<circle cx="566.4" cy="396.6" r="3.75"/>
<circle cx="573.1" cy="392.9" r="3.75"/>
<circle cx="581.0" cy="406.1" r="3.75"/>
</g>
<g fill="none" stroke="#686868" stroke-width="1.1">
<circle cx="709.3" cy="77.2" r="3.75"/>
<circle cx="707.4" cy="81.1" r="3.75"/>
<circle cx="713.8" cy="84.3" r="3.75"/>
<circle cx="706.1" cy="87.9" r="3.75"/>
<circle cx="715.1" cy="90.7" r="3.75"/>
<circle cx="714.5" cy="93.3" r="3.75"/>
<circle cx="715.1" cy="95.9" r="3.75"/>
<circle cx="720.9" cy="101.4" r="3.75"/>
<circle cx="716.4" cy="105.5" r="3.75"/>
<circle cx="715.1" cy="108.8" r="3.75"/>
<circle cx="712.9" cy="116.5" r="3.75"/>
<circle cx="715.1" cy="123.6" r="3.75"/>
<circle cx="724.1" cy="123.6" r="3.75"/>
<circle cx="720.0" cy="130.0" r="3.75"/>
<circle cx="720.6" cy="131.9" r="3.75"/>
<circle cx="721.2" cy="135.7" r="3.75"/>
<circle cx="734.1" cy="131.9" r="3.75"/>
<circle cx="736.7" cy="133.2" r="3.75"/>
<circle cx="741.2" cy="131.2" r="3.75"/>
<circle cx="743.1" cy="138.3" r="3.75"/>
<circle cx="748.3" cy="138.3" r="3.75"/>
<circle cx="749.5" cy="141.5" r="3.75"/>
<circle cx="750.8" cy="144.1" r="3.75"/>
<circle cx="750.8" cy="146.7" r="3.75"/>
<circle cx="756.6" cy="151.2" r="3.75"/>
<circle cx="764.4" cy="155.0" r="3.75"/>
<circle cx="767.6" cy="164.1" r="3.75"/>
<circle cx="763.7" cy="122.9" r="3.75"/>
<circle cx="781.2" cy="127.1" r="3.75"/>
<circle cx="787.0" cy="129.0" r="3.75"/>
<circle cx="792.8" cy="131.0" r="3.75"/>
<circle cx="778.7" cy="138.0" r="3.75"/>
<circle cx="785.1" cy="147.1" r="3.75"/>
<circle cx="785.1" cy="153.5" r="3.75"/>
<circle cx="787.7" cy="152.9" r="3.75"/>
<circle cx="792.8" cy="160.0" r="3.75"/>
<circle cx="794.1" cy="161.2" r="3.75"/>
<circle cx="794.1" cy="170.9" r="3.75"/>
<circle cx="790.9" cy="174.1" r="3.75"/>
<circle cx="776.1" cy="169.0" r="3.75"/>
<circle cx="779.3" cy="167.7" r="3.75"/>
<circle cx="785.7" cy="166.4" r="3.75"/>
<circle cx="761.9" cy="178.0" r="3.75"/>
<circle cx="765.2" cy="182.3" r="3.75"/>
<circle cx="759.2" cy="186.6" r="3.75"/>
<circle cx="770.4" cy="185.8" r="3.75"/>
<circle cx="765.2" cy="190.9" r="3.75"/>
<circle cx="775.5" cy="191.8" r="3.75"/>
<circle cx="754.9" cy="193.5" r="3.75"/>
<circle cx="771.2" cy="195.2" r="3.75"/>
<circle cx="779.8" cy="196.9" r="3.75"/>
<circle cx="810.8" cy="198.7" r="3.75"/>
<circle cx="811.6" cy="201.2" r="3.75"/>
<circle cx="809.0" cy="197.0" r="3.75"/>
<circle cx="766.9" cy="215.0" r="3.75"/>
<circle cx="776.4" cy="214.1" r="3.75"/>
<circle cx="785.0" cy="208.1" r="3.75"/>
<circle cx="787.6" cy="213.3" r="3.75"/>
<circle cx="777.3" cy="220.1" r="3.75"/>
<circle cx="779.8" cy="226.2" r="3.75"/>
<circle cx="799.6" cy="209.0" r="3.75"/>
<circle cx="803.0" cy="211.5" r="3.75"/>
<circle cx="805.6" cy="216.7" r="3.75"/>
<circle cx="805.6" cy="222.7" r="3.75"/>
<circle cx="798.7" cy="220.1" r="3.75"/>
<circle cx="791.0" cy="219.3" r="3.75"/>
<circle cx="794.4" cy="221.9" r="3.75"/>
<circle cx="783.3" cy="221.9" r="3.75"/>
<circle cx="785.0" cy="230.4" r="3.75"/>
<circle cx="789.3" cy="235.6" r="3.75"/>
<circle cx="796.2" cy="237.3" r="3.75"/>
<circle cx="812.0" cy="197.5" r="3.75"/>
<circle cx="813.0" cy="201.0" r="3.75"/>
<circle cx="810.0" cy="203.0" r="3.75"/>
<circle cx="802.8" cy="210.7" r="3.75"/>
<circle cx="806.0" cy="212.0" r="3.75"/>
<circle cx="807.3" cy="214.6" r="3.75"/>
<circle cx="800.9" cy="217.2" r="3.75"/>
<circle cx="804.7" cy="219.7" r="3.75"/>
<circle cx="805.4" cy="223.0" r="3.75"/>
<circle cx="797.7" cy="218.5" r="3.75"/>
<circle cx="795.7" cy="215.9" r="3.75"/>
<circle cx="775.1" cy="192.7" r="3.75"/>
<circle cx="772.0" cy="188.2" r="3.75"/>
<circle cx="775.8" cy="213.3" r="3.75"/>
<circle cx="784.2" cy="214.6" r="3.75"/>
<circle cx="786.7" cy="218.5" r="3.75"/>
<circle cx="788.7" cy="223.6" r="3.75"/>
<circle cx="788.0" cy="228.8" r="3.75"/>
<circle cx="793.8" cy="235.2" r="3.75"/>
<circle cx="797.0" cy="237.8" r="3.75"/>
<circle cx="791.2" cy="239.0" r="3.75"/>
<circle cx="795.7" cy="241.6" r="3.75"/>
<circle cx="796.0" cy="242.5" r="3.75"/>
<circle cx="791.5" cy="245.5" r="3.75"/>
<circle cx="798.3" cy="247.0" r="3.75"/>
<circle cx="797.5" cy="251.5" r="3.75"/>
<circle cx="799.8" cy="254.5" r="3.75"/>
<circle cx="792.3" cy="253.0" r="3.75"/>
<circle cx="799.8" cy="259.0" r="3.75"/>
<circle cx="797.5" cy="262.0" r="3.75"/>
<circle cx="787.0" cy="265.8" r="3.75"/>
<circle cx="792.3" cy="266.5" r="3.75"/>
<circle cx="796.8" cy="271.8" r="3.75"/>
<circle cx="794.5" cy="276.3" r="3.75"/>
<circle cx="791.5" cy="283.8" r="3.75"/>
<circle cx="790.8" cy="286.8" r="3.75"/>
<circle cx="787.0" cy="292.8" r="3.75"/>
<circle cx="780.3" cy="299.6" r="3.75"/>
<circle cx="800.0" cy="244.0" r="3.75"/>
<circle cx="801.0" cy="250.0" r="3.75"/>
<circle cx="796.0" cy="257.0" r="3.75"/>
<circle cx="800.0" cy="266.0" r="3.75"/>
<circle cx="793.0" cy="260.0" r="3.75"/>
<circle cx="788.4" cy="311.7" r="3.75"/>
<circle cx="776.4" cy="318.6" r="3.75"/>
<circle cx="773.0" cy="324.4" r="3.75"/>
<circle cx="776.0" cy="329.7" r="3.75"/>
<circle cx="755.4" cy="339.2" r="3.75"/>
<circle cx="784.6" cy="343.0" r="3.75"/>
<circle cx="765.2" cy="350.7" r="3.75"/>
<circle cx="763.5" cy="358.4" r="3.75"/>
<circle cx="769.2" cy="356.7" r="3.75"/>
<circle cx="749.2" cy="362.2" r="3.75"/>
<circle cx="791.6" cy="244.6" r="3.75"/>
<circle cx="797.1" cy="270.3" r="3.75"/>
<circle cx="799.9" cy="254.7" r="3.75"/>
<circle cx="797.5" cy="266.6" r="3.75"/>
<circle cx="790.1" cy="261.4" r="3.75"/>
<circle cx="800.8" cy="265.9" r="3.75"/>
<circle cx="798.8" cy="254.7" r="3.75"/>
<circle cx="791.3" cy="266.2" r="3.75"/>
<circle cx="793.3" cy="266.6" r="3.75"/>
<circle cx="801.6" cy="251.6" r="3.75"/>
<circle cx="794.2" cy="272.0" r="3.75"/>
<circle cx="798.4" cy="243.3" r="3.75"/>
<circle cx="808.8" cy="197.1" r="3.75"/>
<circle cx="813.4" cy="201.6" r="3.75"/>
<circle cx="808.9" cy="201.8" r="3.75"/>
</g>
<g fill="none" stroke="#686868" stroke-width="1.1">
<circle cx="919.0" cy="79.5" r="3.75"/>
<circle cx="922.9" cy="79.5" r="3.75"/>
<circle cx="915.2" cy="103.0" r="3.75"/>
<circle cx="928.3" cy="126.8" r="3.75"/>
<circle cx="935.4" cy="126.8" r="3.75"/>
<circle cx="932.5" cy="134.5" r="3.75"/>
<circle cx="937.0" cy="144.2" r="3.75"/>
<circle cx="929.6" cy="148.1" r="3.75"/>
<circle cx="925.8" cy="153.9" r="3.75"/>
<circle cx="931.6" cy="155.0" r="3.75"/>
<circle cx="936.4" cy="146.5" r="3.75"/>
<circle cx="927.7" cy="159.5" r="3.75"/>
<circle cx="926.8" cy="162.4" r="3.75"/>
<circle cx="933.5" cy="167.2" r="3.75"/>
<circle cx="951.9" cy="177.8" r="3.75"/>
<circle cx="949.0" cy="180.7" r="3.75"/>
<circle cx="950.9" cy="183.6" r="3.75"/>
<circle cx="948.0" cy="185.6" r="3.75"/>
<circle cx="949.9" cy="189.4" r="3.75"/>
<circle cx="944.1" cy="190.4" r="3.75"/>
<circle cx="948.0" cy="194.3" r="3.75"/>
<circle cx="939.3" cy="195.2" r="3.75"/>
<circle cx="940.3" cy="198.1" r="3.75"/>
<circle cx="935.4" cy="204.9" r="3.75"/>
<circle cx="940.3" cy="203.0" r="3.75"/>
<circle cx="943.2" cy="203.9" r="3.75"/>
<circle cx="947.0" cy="203.9" r="3.75"/>
<circle cx="950.9" cy="204.9" r="3.75"/>
<circle cx="945.1" cy="208.7" r="3.75"/>
<circle cx="949.9" cy="211.6" r="3.75"/>
<circle cx="947.0" cy="212.6" r="3.75"/>
<circle cx="921.0" cy="215.5" r="3.75"/>
<circle cx="930.6" cy="217.4" r="3.75"/>
<circle cx="919.0" cy="223.2" r="3.75"/>
<circle cx="892.6" cy="244.7" r="3.75"/>
<circle cx="930.6" cy="250.1" r="3.75"/>
<circle cx="949.0" cy="263.6" r="3.75"/>
<circle cx="924.8" cy="270.4" r="3.75"/>
<circle cx="946.6" cy="281.6" r="3.75"/>
<circle cx="923.9" cy="286.4" r="3.75"/>
<circle cx="933.5" cy="291.6" r="3.75"/>
<circle cx="909.0" cy="291.1" r="3.75"/>
<circle cx="846.2" cy="292.6" r="3.75"/>
<circle cx="893.9" cy="294.0" r="3.75"/>
<circle cx="883.3" cy="296.9" r="3.75"/>
<circle cx="910.0" cy="304.2" r="3.75"/>
<circle cx="892.0" cy="306.1" r="3.75"/>
<circle cx="898.2" cy="306.1" r="3.75"/>
<circle cx="886.2" cy="319.8" r="3.75"/>
<circle cx="919.7" cy="320.6" r="3.75"/>
<circle cx="945.0" cy="320.3" r="3.75"/>
<circle cx="943.2" cy="320.3" r="3.75"/>
<circle cx="935.0" cy="327.5" r="3.75"/>
<circle cx="907.2" cy="330.1" r="3.75"/>
<circle cx="917.5" cy="331.8" r="3.75"/>
<circle cx="846.2" cy="336.9" r="3.75"/>
<circle cx="877.1" cy="336.1" r="3.75"/>
<circle cx="888.3" cy="336.9" r="3.75"/>
<circle cx="892.6" cy="338.7" r="3.75"/>
<circle cx="896.9" cy="339.5" r="3.75"/>
<circle cx="908.0" cy="342.1" r="3.75"/>
<circle cx="912.3" cy="343.0" r="3.75"/>
<circle cx="926.9" cy="340.9" r="3.75"/>
<circle cx="936.4" cy="344.3" r="3.75"/>
<circle cx="938.1" cy="345.5" r="3.75"/>
<circle cx="864.2" cy="345.0" r="3.75"/>
<circle cx="867.6" cy="345.0" r="3.75"/>
<circle cx="873.7" cy="345.0" r="3.75"/>
<circle cx="844.5" cy="347.8" r="3.75"/>
<circle cx="849.6" cy="347.8" r="3.75"/>
<circle cx="904.6" cy="348.1" r="3.75"/>
<circle cx="902.9" cy="351.5" r="3.75"/>
<circle cx="881.4" cy="353.3" r="3.75"/>
<circle cx="890.0" cy="350.7" r="3.75"/>
<circle cx="894.3" cy="351.5" r="3.75"/>
<circle cx="897.7" cy="353.3" r="3.75"/>
<circle cx="848.7" cy="357.6" r="3.75"/>
<circle cx="871.9" cy="356.7" r="3.75"/>
<circle cx="888.3" cy="358.4" r="3.75"/>
<circle cx="891.7" cy="356.7" r="3.75"/>
<circle cx="895.1" cy="358.4" r="3.75"/>
<circle cx="899.4" cy="359.3" r="3.75"/>
<circle cx="886.5" cy="361.0" r="3.75"/>
<circle cx="859.1" cy="361.9" r="3.75"/>
<circle cx="865.1" cy="362.7" r="3.75"/>
<circle cx="869.4" cy="363.6" r="3.75"/>
<circle cx="876.2" cy="363.6" r="3.75"/>
<circle cx="879.7" cy="364.4" r="3.75"/>
<circle cx="884.8" cy="366.2" r="3.75"/>
<circle cx="891.7" cy="363.6" r="3.75"/>
<circle cx="898.6" cy="365.3" r="3.75"/>
<circle cx="907.2" cy="363.6" r="3.75"/>
<circle cx="913.2" cy="361.9" r="3.75"/>
<circle cx="915.8" cy="364.4" r="3.75"/>
<circle cx="838.4" cy="367.9" r="3.75"/>
<circle cx="841.9" cy="367.9" r="3.75"/>
<circle cx="845.3" cy="367.9" r="3.75"/>
<circle cx="859.1" cy="368.7" r="3.75"/>
<circle cx="865.1" cy="367.9" r="3.75"/>
<circle cx="871.1" cy="366.2" r="3.75"/>
<circle cx="873.7" cy="370.4" r="3.75"/>
<circle cx="848.7" cy="372.2" r="3.75"/>
<circle cx="890.0" cy="372.2" r="3.75"/>
<circle cx="896.9" cy="373.0" r="3.75"/>
<circle cx="933.8" cy="361.9" r="3.75"/>
<circle cx="928.6" cy="367.0" r="3.75"/>
<circle cx="931.2" cy="368.7" r="3.75"/>
<circle cx="938.1" cy="368.7" r="3.75"/>
<circle cx="943.2" cy="370.4" r="3.75"/>
<circle cx="946.7" cy="372.2" r="3.75"/>
<circle cx="942.4" cy="374.7" r="3.75"/>
<circle cx="946.7" cy="375.6" r="3.75"/>
<circle cx="924.3" cy="373.9" r="3.75"/>
<circle cx="886.5" cy="377.3" r="3.75"/>
<circle cx="893.4" cy="378.2" r="3.75"/>
<circle cx="840.2" cy="378.2" r="3.75"/>
<circle cx="910.6" cy="378.2" r="3.75"/>
<circle cx="919.2" cy="375.6" r="3.75"/>
<circle cx="839.3" cy="381.2" r="3.75"/>
<circle cx="898.6" cy="376.9" r="3.75"/>
<circle cx="902.0" cy="379.5" r="3.75"/>
<circle cx="875.4" cy="383.7" r="3.75"/>
<circle cx="908.9" cy="384.6" r="3.75"/>
<circle cx="912.3" cy="381.2" r="3.75"/>
<circle cx="907.2" cy="387.2" r="3.75"/>
<circle cx="921.8" cy="382.0" r="3.75"/>
<circle cx="924.3" cy="383.7" r="3.75"/>
<circle cx="925.2" cy="375.2" r="3.75"/>
<circle cx="942.4" cy="385.5" r="3.75"/>
<circle cx="945.0" cy="373.4" r="3.75"/>
<circle cx="930.4" cy="392.3" r="3.75"/>
<circle cx="930.4" cy="395.8" r="3.75"/>
<circle cx="939.8" cy="397.5" r="3.75"/>
<circle cx="942.4" cy="395.8" r="3.75"/>
<circle cx="950.1" cy="397.8" r="3.75"/>
<circle cx="850.5" cy="394.0" r="3.75"/>
<circle cx="850.5" cy="397.5" r="3.75"/>
<circle cx="884.8" cy="395.8" r="3.75"/>
<circle cx="892.6" cy="400.1" r="3.75"/>
<circle cx="893.4" cy="401.8" r="3.75"/>
<circle cx="840.2" cy="411.2" r="3.75"/>
<circle cx="858.2" cy="413.0" r="3.75"/>
<circle cx="861.6" cy="421.5" r="3.75"/>
<circle cx="869.4" cy="413.0" r="3.75"/>
<circle cx="879.7" cy="411.2" r="3.75"/>
<circle cx="889.1" cy="411.2" r="3.75"/>
<circle cx="901.2" cy="411.2" r="3.75"/>
<circle cx="908.9" cy="410.4" r="3.75"/>
<circle cx="914.0" cy="407.8" r="3.75"/>
<circle cx="920.9" cy="415.5" r="3.75"/>
<circle cx="926.1" cy="420.7" r="3.75"/>
<circle cx="895.1" cy="420.7" r="3.75"/>
<circle cx="899.4" cy="418.1" r="3.75"/>
<circle cx="903.7" cy="420.7" r="3.75"/>
<circle cx="907.2" cy="423.3" r="3.75"/>
<circle cx="911.5" cy="421.5" r="3.75"/>
<circle cx="917.5" cy="425.0" r="3.75"/>
<circle cx="896.9" cy="426.7" r="3.75"/>
<circle cx="902.9" cy="426.7" r="3.75"/>
<circle cx="910.6" cy="428.4" r="3.75"/>
<circle cx="919.2" cy="428.4" r="3.75"/>
<circle cx="927.8" cy="429.3" r="3.75"/>
<circle cx="933.8" cy="427.6" r="3.75"/>
<circle cx="896.9" cy="431.0" r="3.75"/>
<circle cx="905.4" cy="433.6" r="3.75"/>
<circle cx="837.6" cy="442.2" r="3.75"/>
<circle cx="882.3" cy="440.4" r="3.75"/>
<circle cx="912.3" cy="438.7" r="3.75"/>
<circle cx="915.8" cy="443.9" r="3.75"/>
<circle cx="921.8" cy="443.0" r="3.75"/>
<circle cx="895.7" cy="352.0" r="3.75"/>
<circle cx="887.1" cy="355.9" r="3.75"/>
<circle cx="889.7" cy="351.5" r="3.75"/>
<circle cx="901.4" cy="368.9" r="3.75"/>
<circle cx="892.2" cy="358.7" r="3.75"/>
<circle cx="883.1" cy="351.0" r="3.75"/>
<circle cx="889.2" cy="354.3" r="3.75"/>
<circle cx="900.9" cy="352.2" r="3.75"/>
<circle cx="881.6" cy="368.0" r="3.75"/>
<circle cx="893.7" cy="351.9" r="3.75"/>
<circle cx="894.0" cy="349.5" r="3.75"/>
<circle cx="893.7" cy="368.6" r="3.75"/>
<circle cx="901.7" cy="362.9" r="3.75"/>
<circle cx="887.3" cy="356.3" r="3.75"/>
<circle cx="885.0" cy="364.4" r="3.75"/>
<circle cx="893.8" cy="364.6" r="3.75"/>
<circle cx="888.9" cy="353.5" r="3.75"/>
<circle cx="900.5" cy="368.7" r="3.75"/>
<circle cx="901.5" cy="365.1" r="3.75"/>
<circle cx="900.6" cy="363.8" r="3.75"/>
<circle cx="857.6" cy="364.4" r="3.75"/>
<circle cx="861.3" cy="361.2" r="3.75"/>
<circle cx="851.8" cy="362.8" r="3.75"/>
<circle cx="858.5" cy="365.5" r="3.75"/>
<circle cx="878.7" cy="363.9" r="3.75"/>
<circle cx="878.2" cy="367.4" r="3.75"/>
<circle cx="878.7" cy="363.4" r="3.75"/>
<circle cx="857.4" cy="362.5" r="3.75"/>
</g>
<path d="M931.0,74.3 C930.8,76.0 930.1,79.4 929.7,84.3 C929.3,89.2 928.7,96.2 928.7,103.6 C928.7,111.0 929.2,122.2 929.7,128.7 C930.2,135.1 931.0,138.8 931.6,142.3 C932.2,145.9 932.9,147.0 933.5,150.0 C934.1,153.0 934.3,156.8 935.4,160.5 C936.5,164.2 938.4,168.2 940.3,172.0 C942.2,175.8 946.0,179.7 947.0,183.6 C948.0,187.5 946.9,191.6 946.1,195.2 C945.3,198.8 944.3,201.7 942.2,204.9 C940.1,208.1 935.9,211.6 933.5,214.5 C931.1,217.4 928.8,218.9 927.7,222.3 C926.6,225.7 926.6,231.3 926.8,235.0 C927.0,238.7 928.9,240.5 928.7,244.3 C928.5,248.1 927.1,251.7 925.8,257.8 C924.5,263.9 922.9,274.6 921.0,281.0 C919.1,287.4 915.9,292.6 914.2,296.5 C912.5,300.4 911.1,299.1 910.6,304.3 C910.1,309.5 912.4,322.9 911.5,327.5 C910.6,332.1 907.8,330.2 905.4,331.8 C903.0,333.4 898.6,334.9 896.9,337.0 C895.2,339.1 895.7,341.4 895.1,344.7 C894.5,348.0 893.4,353.1 893.4,356.7 C893.4,360.2 894.1,363.9 895.0,366.0 C895.9,368.1 894.0,368.5 899.0,369.3 C904.0,370.1 921.2,370.4 925.0,371.0 C928.8,371.6 923.7,370.4 922.0,373.0 C920.3,375.6 917.5,382.8 914.7,386.3 C911.9,389.8 908.0,391.7 905.4,394.0 C902.8,396.3 901.0,398.3 899.3,400.0 C897.6,401.7 896.1,402.5 895.1,404.4 C894.1,406.3 892.5,408.6 893.4,411.2 C894.3,413.8 897.7,416.9 900.3,419.8 C902.9,422.7 907.8,426.1 908.9,428.4 C910.0,430.7 908.1,431.6 907.2,433.6 C906.3,435.6 904.3,438.4 903.7,440.4 C903.1,442.4 903.7,444.7 903.7,445.6" fill="none" stroke="#7f7f7f" stroke-width="1.8"/>
<g fill="none" stroke="#686868" stroke-width="1.1">
<circle cx="1069.5" cy="88.2" r="3.75"/>
<circle cx="1064.1" cy="105.8" r="3.75"/>
<circle cx="1063.7" cy="111.2" r="3.75"/>
<circle cx="1069.5" cy="116.5" r="3.75"/>
<circle cx="1078.7" cy="129.0" r="3.75"/>
<circle cx="1063.7" cy="137.6" r="3.75"/>
<circle cx="1074.8" cy="146.2" r="3.75"/>
<circle cx="1047.6" cy="150.5" r="3.75"/>
<circle cx="1001.2" cy="159.5" r="3.75"/>
<circle cx="984.2" cy="169.3" r="3.75"/>
<circle cx="1077.0" cy="174.7" r="3.75"/>
<circle cx="1077.0" cy="182.6" r="3.75"/>
<circle cx="1086.7" cy="190.8" r="3.75"/>
<circle cx="1084.5" cy="196.8" r="3.75"/>
<circle cx="1066.3" cy="198.3" r="3.75"/>
<circle cx="1069.5" cy="207.5" r="3.75"/>
<circle cx="1045.9" cy="210.1" r="3.75"/>
<circle cx="1053.4" cy="215.5" r="3.75"/>
<circle cx="1054.9" cy="220.9" r="3.75"/>
<circle cx="1040.5" cy="225.6" r="3.75"/>
<circle cx="1034.1" cy="231.2" r="3.75"/>
<circle cx="1028.7" cy="233.7" r="3.75"/>
<circle cx="1038.3" cy="237.0" r="3.75"/>
<circle cx="1047.4" cy="248.1" r="3.75"/>
<circle cx="1048.0" cy="256.1" r="3.75"/>
<circle cx="1050.2" cy="258.9" r="3.75"/>
<circle cx="1036.2" cy="276.9" r="3.75"/>
<circle cx="1066.3" cy="284.0" r="3.75"/>
<circle cx="1062.0" cy="290.0" r="3.75"/>
<circle cx="1069.5" cy="298.4" r="3.75"/>
<circle cx="1069.5" cy="303.3" r="3.75"/>
<circle cx="1067.3" cy="305.1" r="3.75"/>
<circle cx="1065.2" cy="308.3" r="3.75"/>
<circle cx="1075.5" cy="314.1" r="3.75"/>
<circle cx="1066.3" cy="317.7" r="3.75"/>
<circle cx="1080.2" cy="322.0" r="3.75"/>
<circle cx="1093.7" cy="328.5" r="3.75"/>
<circle cx="1088.8" cy="335.6" r="3.75"/>
<circle cx="1077.0" cy="340.0" r="3.75"/>
<circle cx="1074.8" cy="345.0" r="3.75"/>
<circle cx="1072.7" cy="349.3" r="3.75"/>
<circle cx="1070.6" cy="351.5" r="3.75"/>
<circle cx="1075.9" cy="354.7" r="3.75"/>
<circle cx="1092.0" cy="349.8" r="3.75"/>
<circle cx="1097.4" cy="356.8" r="3.75"/>
<circle cx="1088.2" cy="358.6" r="3.75"/>
<circle cx="1071.6" cy="362.6" r="3.75"/>
<circle cx="1062.0" cy="373.6" r="3.75"/>
<circle cx="1077.0" cy="383.3" r="3.75"/>
<circle cx="1049.1" cy="392.7" r="3.75"/>
<circle cx="1058.7" cy="406.2" r="3.75"/>
<circle cx="1065.8" cy="414.4" r="3.75"/>
<circle cx="1036.3" cy="430.6" r="3.75"/>
</g>
<path d="M1070.1,88.6 C1070.0,90.4 1070.0,95.5 1069.5,99.4 C1069.0,103.3 1068.4,107.6 1067.3,112.2 C1066.2,116.8 1065.1,123.0 1063.0,127.3 C1060.9,131.6 1057.7,134.6 1054.5,138.0 C1051.3,141.4 1046.6,145.0 1043.7,147.7 C1040.8,150.4 1038.7,152.2 1037.3,154.1 C1035.9,156.0 1035.1,157.0 1035.1,159.0 C1035.1,161.0 1035.1,164.0 1037.3,166.1 C1039.5,168.2 1043.7,169.2 1048.0,171.5 C1052.3,173.8 1059.2,177.1 1063.0,180.1 C1066.8,183.1 1069.9,186.5 1070.6,189.7 C1071.3,192.9 1069.6,196.3 1067.3,199.4 C1065.0,202.5 1060.5,205.1 1056.6,208.0 C1052.7,210.9 1046.9,213.7 1043.7,216.6 C1040.5,219.5 1038.5,222.0 1037.3,225.2 C1036.0,228.4 1035.8,232.9 1036.2,235.9 C1036.6,238.9 1038.2,240.2 1039.4,243.0 C1040.7,245.8 1042.3,248.8 1043.7,252.9 C1045.1,257.1 1045.8,263.2 1048.0,267.9 C1050.2,272.5 1053.7,276.5 1056.6,280.8 C1059.5,285.1 1062.3,289.1 1065.2,293.7 C1068.1,298.3 1071.3,304.0 1073.8,308.7 C1076.3,313.4 1079.0,318.0 1080.2,321.6 C1081.5,325.2 1081.5,326.6 1081.3,330.2 C1081.1,333.8 1080.0,339.0 1079.1,342.9 C1078.2,346.8 1077.5,350.6 1075.9,353.6 C1074.3,356.6 1072.0,358.6 1069.5,361.1 C1067.0,363.6 1063.2,366.4 1060.9,368.7 C1058.6,371.0 1056.4,371.9 1055.5,375.1 C1054.6,378.3 1055.1,382.6 1055.5,388.0 C1055.9,393.4 1057.0,401.6 1057.7,407.3 C1058.4,413.0 1059.2,419.6 1059.5,422.0" fill="none" stroke="#7f7f7f" stroke-width="1.8"/>
<g fill="none" stroke="#686868" stroke-width="1.1">
<circle cx="1222.5" cy="258.7" r="3.75"/>
<circle cx="1185.8" cy="262.0" r="3.75"/>
<circle cx="1186.8" cy="263.9" r="3.75"/>
<circle cx="1187.7" cy="266.4" r="3.75"/>
<circle cx="1172.9" cy="267.4" r="3.75"/>
<circle cx="1196.4" cy="269.3" r="3.75"/>
<circle cx="1198.4" cy="271.6" r="3.75"/>
<circle cx="1203.8" cy="267.0" r="3.75"/>
<circle cx="1208.0" cy="269.3" r="3.75"/>
<circle cx="1210.9" cy="271.2" r="3.75"/>
<circle cx="1217.7" cy="270.3" r="3.75"/>
<circle cx="1225.4" cy="268.9" r="3.75"/>
<circle cx="1219.6" cy="274.1" r="3.75"/>
<circle cx="1222.5" cy="276.1" r="3.75"/>
<circle cx="1226.4" cy="274.1" r="3.75"/>
<circle cx="1231.2" cy="273.6" r="3.75"/>
<circle cx="1216.7" cy="276.1" r="3.75"/>
<circle cx="1135.6" cy="280.9" r="3.75"/>
<circle cx="1140.8" cy="280.9" r="3.75"/>
<circle cx="1166.1" cy="281.9" r="3.75"/>
<circle cx="1190.3" cy="279.9" r="3.75"/>
<circle cx="1183.9" cy="284.7" r="3.75"/>
<circle cx="1198.4" cy="281.9" r="3.75"/>
<circle cx="1212.8" cy="279.9" r="3.75"/>
<circle cx="1192.6" cy="286.7" r="3.75"/>
<circle cx="1198.4" cy="288.6" r="3.75"/>
<circle cx="1201.3" cy="290.5" r="3.75"/>
<circle cx="1218.6" cy="286.7" r="3.75"/>
<circle cx="1220.6" cy="287.6" r="3.75"/>
<circle cx="1229.2" cy="293.4" r="3.75"/>
<circle cx="1224.4" cy="296.3" r="3.75"/>
<circle cx="1230.2" cy="300.6" r="3.75"/>
<circle cx="1232.1" cy="306.0" r="3.75"/>
<circle cx="1204.2" cy="307.0" r="3.75"/>
<circle cx="1210.9" cy="306.0" r="3.75"/>
<circle cx="1215.7" cy="305.6" r="3.75"/>
<circle cx="1207.0" cy="315.3" r="3.75"/>
<circle cx="1165.2" cy="323.7" r="3.75"/>
<circle cx="1179.1" cy="332.0" r="3.75"/>
<circle cx="1186.8" cy="338.8" r="3.75"/>
<circle cx="1186.6" cy="340.2" r="3.75"/>
<circle cx="1184.8" cy="348.8" r="3.75"/>
<circle cx="1189.9" cy="356.3" r="3.75"/>
<circle cx="1177.6" cy="362.3" r="3.75"/>
<circle cx="1188.1" cy="361.5" r="3.75"/>
<circle cx="1191.1" cy="361.5" r="3.75"/>
<circle cx="1194.9" cy="362.7" r="3.75"/>
<circle cx="1200.1" cy="359.3" r="3.75"/>
<circle cx="1203.1" cy="357.8" r="3.75"/>
<circle cx="1208.4" cy="361.5" r="3.75"/>
<circle cx="1213.6" cy="360.0" r="3.75"/>
<circle cx="1216.6" cy="359.3" r="3.75"/>
<circle cx="1219.6" cy="360.0" r="3.75"/>
<circle cx="1222.6" cy="361.5" r="3.75"/>
<circle cx="1225.6" cy="357.8" r="3.75"/>
<circle cx="1228.6" cy="359.3" r="3.75"/>
<circle cx="1215.1" cy="363.8" r="3.75"/>
<circle cx="1218.9" cy="363.8" r="3.75"/>
<circle cx="1224.1" cy="364.6" r="3.75"/>
<circle cx="1228.6" cy="366.0" r="3.75"/>
<circle cx="1234.7" cy="359.7" r="3.75"/>
<circle cx="1221.1" cy="369.1" r="3.75"/>
<circle cx="1225.6" cy="370.6" r="3.75"/>
<circle cx="1227.9" cy="372.8" r="3.75"/>
<circle cx="1239.2" cy="375.1" r="3.75"/>
<circle cx="1193.6" cy="373.6" r="3.75"/>
<circle cx="1216.6" cy="375.1" r="3.75"/>
<circle cx="1221.1" cy="375.1" r="3.75"/>
<circle cx="1214.4" cy="378.1" r="3.75"/>
<circle cx="1218.1" cy="379.6" r="3.75"/>
<circle cx="1222.6" cy="379.6" r="3.75"/>
<circle cx="1228.6" cy="379.6" r="3.75"/>
<circle cx="1233.2" cy="383.3" r="3.75"/>
<circle cx="1230.2" cy="384.1" r="3.75"/>
<circle cx="1221.1" cy="383.3" r="3.75"/>
<circle cx="1215.1" cy="382.6" r="3.75"/>
<circle cx="1189.6" cy="382.6" r="3.75"/>
<circle cx="1206.1" cy="384.1" r="3.75"/>
<circle cx="1203.1" cy="389.3" r="3.75"/>
<circle cx="1210.6" cy="390.1" r="3.75"/>
<circle cx="1215.1" cy="391.6" r="3.75"/>
<circle cx="1221.1" cy="392.3" r="3.75"/>
<circle cx="1213.6" cy="395.3" r="3.75"/>
<circle cx="1195.6" cy="393.1" r="3.75"/>
<circle cx="1191.1" cy="395.3" r="3.75"/>
<circle cx="1185.1" cy="396.1" r="3.75"/>
<circle cx="1194.1" cy="396.8" r="3.75"/>
<circle cx="1215.1" cy="382.3" r="3.75"/>
<circle cx="1234.7" cy="382.3" r="3.75"/>
<circle cx="1204.6" cy="389.0" r="3.75"/>
<circle cx="1212.1" cy="391.3" r="3.75"/>
<circle cx="1188.1" cy="395.8" r="3.75"/>
<circle cx="1191.8" cy="395.8" r="3.75"/>
<circle cx="1198.6" cy="395.0" r="3.75"/>
<circle cx="1201.6" cy="395.0" r="3.75"/>
<circle cx="1206.9" cy="395.0" r="3.75"/>
<circle cx="1216.6" cy="395.0" r="3.75"/>
<circle cx="1194.1" cy="419.8" r="3.75"/>
<circle cx="1197.1" cy="419.8" r="3.75"/>
<circle cx="1206.9" cy="419.8" r="3.75"/>
<circle cx="1212.1" cy="419.8" r="3.75"/>
<circle cx="1221.1" cy="418.3" r="3.75"/>
<circle cx="1227.1" cy="417.6" r="3.75"/>
<circle cx="1233.2" cy="418.3" r="3.75"/>
<circle cx="1237.7" cy="419.1" r="3.75"/>
<circle cx="1242.9" cy="419.8" r="3.75"/>
<circle cx="1215.1" cy="423.6" r="3.75"/>
<circle cx="1221.1" cy="423.6" r="3.75"/>
<circle cx="1227.1" cy="422.8" r="3.75"/>
<circle cx="1233.2" cy="423.6" r="3.75"/>
<circle cx="1239.2" cy="422.8" r="3.75"/>
<circle cx="1200.1" cy="428.8" r="3.75"/>
<circle cx="1203.1" cy="429.6" r="3.75"/>
<circle cx="1209.1" cy="428.1" r="3.75"/>
<circle cx="1213.6" cy="428.1" r="3.75"/>
<circle cx="1218.1" cy="428.1" r="3.75"/>
<circle cx="1224.1" cy="428.1" r="3.75"/>
<circle cx="1230.2" cy="428.1" r="3.75"/>
<circle cx="1236.2" cy="427.3" r="3.75"/>
<circle cx="1240.7" cy="427.3" r="3.75"/>
<circle cx="1212.1" cy="431.8" r="3.75"/>
<circle cx="1218.1" cy="431.1" r="3.75"/>
<circle cx="1225.6" cy="432.6" r="3.75"/>
<circle cx="1231.7" cy="430.3" r="3.75"/>
<circle cx="1158.0" cy="431.4" r="3.75"/>
<circle cx="1180.6" cy="431.1" r="3.75"/>
<circle cx="1188.8" cy="431.4" r="3.75"/>
<circle cx="1216.5" cy="358.0" r="3.75"/>
<circle cx="1222.1" cy="357.2" r="3.75"/>
<circle cx="1220.1" cy="360.2" r="3.75"/>
<circle cx="1212.0" cy="361.6" r="3.75"/>
<circle cx="1211.6" cy="360.8" r="3.75"/>
<circle cx="1212.2" cy="357.4" r="3.75"/>
<circle cx="1218.2" cy="364.8" r="3.75"/>
<circle cx="1213.1" cy="358.7" r="3.75"/>
<circle cx="1221.7" cy="366.0" r="3.75"/>
<circle cx="1220.8" cy="360.5" r="3.75"/>
<circle cx="1227.6" cy="357.0" r="3.75"/>
<circle cx="1225.6" cy="359.4" r="3.75"/>
<circle cx="1213.5" cy="357.7" r="3.75"/>
<circle cx="1218.9" cy="381.9" r="3.75"/>
<circle cx="1216.4" cy="377.9" r="3.75"/>
<circle cx="1225.1" cy="374.3" r="3.75"/>
<circle cx="1223.4" cy="369.1" r="3.75"/>
<circle cx="1214.1" cy="371.5" r="3.75"/>
<circle cx="1225.9" cy="375.3" r="3.75"/>
<circle cx="1219.0" cy="378.0" r="3.75"/>
<circle cx="1221.6" cy="373.1" r="3.75"/>
<circle cx="1228.1" cy="379.9" r="3.75"/>
<circle cx="1217.6" cy="377.8" r="3.75"/>
<circle cx="1223.0" cy="382.9" r="3.75"/>
<circle cx="1217.8" cy="390.0" r="3.75"/>
<circle cx="1220.3" cy="388.2" r="3.75"/>
<circle cx="1214.7" cy="394.9" r="3.75"/>
<circle cx="1212.0" cy="392.1" r="3.75"/>
<circle cx="1210.9" cy="394.0" r="3.75"/>
<circle cx="1218.1" cy="393.0" r="3.75"/>
<circle cx="1219.3" cy="390.3" r="3.75"/>
<circle cx="1229.0" cy="422.4" r="3.75"/>
<circle cx="1224.3" cy="428.5" r="3.75"/>
<circle cx="1223.2" cy="420.4" r="3.75"/>
<circle cx="1229.7" cy="426.0" r="3.75"/>
<circle cx="1229.9" cy="419.1" r="3.75"/>
<circle cx="1223.1" cy="421.6" r="3.75"/>
<circle cx="1209.4" cy="424.0" r="3.75"/>
<circle cx="1226.9" cy="418.5" r="3.75"/>
<circle cx="1222.7" cy="421.5" r="3.75"/>
<circle cx="1221.5" cy="428.1" r="3.75"/>
<circle cx="1235.0" cy="418.2" r="3.75"/>
<circle cx="1218.8" cy="428.5" r="3.75"/>
<circle cx="1232.6" cy="415.6" r="3.75"/>
<circle cx="1212.3" cy="427.1" r="3.75"/>
<circle cx="1222.9" cy="418.5" r="3.75"/>
<circle cx="1219.0" cy="425.6" r="3.75"/>
<circle cx="1237.4" cy="418.7" r="3.75"/>
<circle cx="1227.5" cy="418.6" r="3.75"/>
<circle cx="1236.6" cy="422.6" r="3.75"/>
<circle cx="1230.2" cy="419.5" r="3.75"/>
<circle cx="1212.2" cy="424.8" r="3.75"/>
<circle cx="1207.3" cy="426.2" r="3.75"/>
<circle cx="1190.4" cy="393.2" r="3.75"/>
<circle cx="1186.0" cy="393.6" r="3.75"/>
<circle cx="1187.3" cy="394.5" r="3.75"/>
<circle cx="1186.3" cy="396.5" r="3.75"/>
</g>
</svg>
</body></html>
